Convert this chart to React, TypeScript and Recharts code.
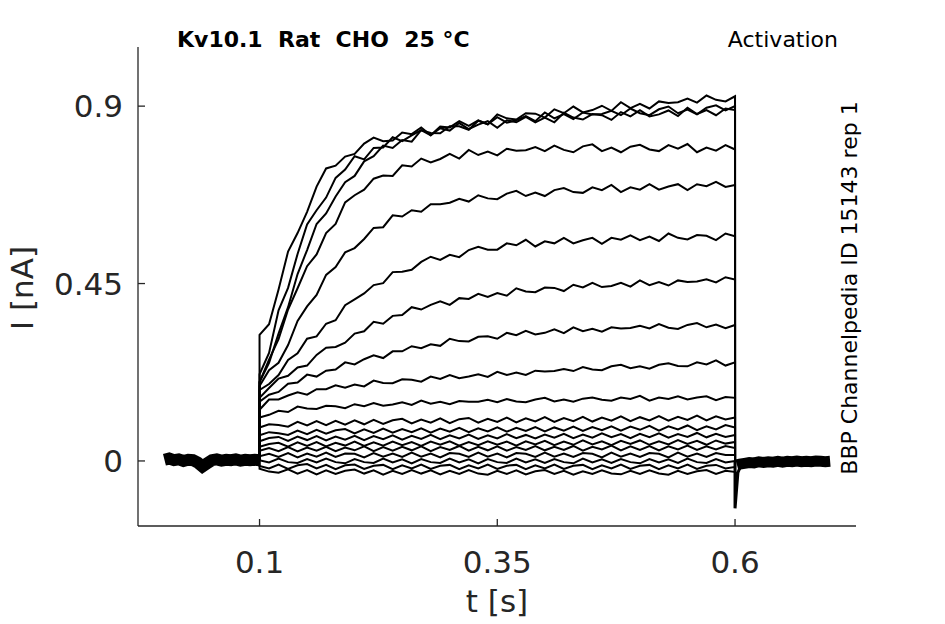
import React from 'react';
import { LineChart, Line, XAxis, YAxis } from 'recharts';

// time base of the voltage step (s)
const stepTimes = [
  0.1, 0.11, 0.12, 0.13, 0.14, 0.15, 0.16, 0.17, 0.18, 0.19,
  0.2, 0.21, 0.22, 0.23, 0.24, 0.25, 0.26, 0.27, 0.28, 0.29,
  0.3, 0.31, 0.32, 0.33, 0.34, 0.35, 0.36, 0.37, 0.38, 0.39,
  0.4, 0.41, 0.42, 0.43, 0.44, 0.45, 0.46, 0.47, 0.48, 0.49,
  0.5, 0.51, 0.52, 0.53, 0.54, 0.55, 0.56, 0.57, 0.58, 0.59,
  0.6,
];

// holding period before the step
const holdTimes = [
  0, 0.005, 0.01, 0.015, 0.02, 0.025, 0.03, 0.035, 0.04, 0.045, 0.05,
  0.055, 0.06, 0.065, 0.07, 0.075, 0.08, 0.085, 0.09, 0.095, 0.1,
];
const holdCurrent = [
  0.003, 0.006, 0.002, 0.004, 0.0, 0.003, 0.002, -0.004, -0.014, -0.006, 0.002,
  0.004, 0.001, 0.003, 0.002, 0.004, 0.001, 0.003, 0.002, 0.003, 0.002,
];

// tail after the step
const tailTimes = [
  0.602, 0.605, 0.61, 0.615, 0.62, 0.625, 0.63, 0.635, 0.64, 0.645, 0.65,
  0.655, 0.66, 0.665, 0.67, 0.675, 0.68, 0.685, 0.69, 0.695, 0.7,
];
const tailCurrent = [
  -0.01, -0.008, -0.006, -0.004, -0.005, -0.002, -0.004, -0.002, -0.003, -0.001, -0.003,
  -0.001, -0.002, 0.0, -0.002, -0.001, -0.002, 0.0, -0.001, -0.002, -0.001,
];
const spikeTimes = [0.6, 0.6, 0.603, 0.606];
const spikeCurrent = [0, -0.12, -0.03, -0.012];

// currents during the step, one per test potential (nA)
const trace01 = [
  0.32, 0.347, 0.435, 0.531, 0.578, 0.632, 0.696, 0.742, 0.749, 0.772,
  0.779, 0.805, 0.82, 0.811, 0.813, 0.833, 0.829, 0.846, 0.826, 0.844,
  0.838, 0.857, 0.842, 0.853, 0.862, 0.845, 0.864, 0.859, 0.873, 0.859,
  0.871, 0.859, 0.883, 0.871, 0.866, 0.88, 0.877, 0.865, 0.885, 0.874,
  0.89, 0.874, 0.879, 0.889, 0.875, 0.896, 0.88, 0.89, 0.877, 0.894,
  0.89,
];
const trace02 = [
  0.22, 0.274, 0.382, 0.439, 0.525, 0.6, 0.636, 0.668, 0.718, 0.739,
  0.773, 0.765, 0.794, 0.795, 0.821, 0.811, 0.826, 0.839, 0.826, 0.848,
  0.846, 0.862, 0.85, 0.864, 0.854, 0.879, 0.869, 0.866, 0.882, 0.881,
  0.871, 0.892, 0.882, 0.899, 0.884, 0.89, 0.901, 0.888, 0.91, 0.895,
  0.906, 0.894, 0.912, 0.908, 0.91, 0.919, 0.909, 0.927, 0.916, 0.912,
  0.925,
];
const trace03 = [
  0.2, 0.249, 0.323, 0.39, 0.474, 0.535, 0.601, 0.628, 0.671, 0.707,
  0.723, 0.76, 0.773, 0.8, 0.794, 0.814, 0.81, 0.839, 0.832, 0.831,
  0.849, 0.849, 0.84, 0.863, 0.854, 0.872, 0.858, 0.864, 0.875, 0.862,
  0.884, 0.869, 0.88, 0.867, 0.884, 0.879, 0.88, 0.888, 0.877, 0.894,
  0.882, 0.877, 0.892, 0.899, 0.882, 0.891, 0.879, 0.896, 0.902, 0.889,
  0.9,
];
const trace04 = [
  0.2, 0.257, 0.309, 0.384, 0.438, 0.494, 0.524, 0.578, 0.601, 0.656,
  0.674, 0.688, 0.716, 0.724, 0.723, 0.75, 0.747, 0.767, 0.757, 0.766,
  0.779, 0.767, 0.789, 0.776, 0.785, 0.775, 0.792, 0.787, 0.788, 0.796,
  0.786, 0.8, 0.789, 0.783, 0.798, 0.803, 0.786, 0.795, 0.783, 0.797,
  0.802, 0.79, 0.786, 0.801, 0.792, 0.804, 0.783, 0.795, 0.787, 0.801,
  0.79,
];
const trace05 = [
  0.19, 0.23, 0.249, 0.294, 0.355, 0.392, 0.421, 0.472, 0.492, 0.529,
  0.54, 0.563, 0.591, 0.593, 0.623, 0.62, 0.636, 0.632, 0.651, 0.651,
  0.655, 0.665, 0.658, 0.674, 0.666, 0.664, 0.678, 0.685, 0.672, 0.681,
  0.672, 0.687, 0.692, 0.682, 0.68, 0.694, 0.687, 0.7, 0.682, 0.694,
  0.688, 0.702, 0.688, 0.696, 0.702, 0.687, 0.702, 0.697, 0.708, 0.695,
  0.7,
];
const trace06 = [
  0.18, 0.195, 0.218, 0.256, 0.273, 0.31, 0.316, 0.348, 0.357, 0.395,
  0.41, 0.425, 0.446, 0.451, 0.479, 0.48, 0.485, 0.505, 0.518, 0.51,
  0.523, 0.517, 0.535, 0.543, 0.536, 0.536, 0.552, 0.547, 0.561, 0.544,
  0.557, 0.552, 0.566, 0.552, 0.56, 0.566, 0.551, 0.566, 0.561, 0.572,
  0.56, 0.569, 0.558, 0.577, 0.566, 0.562, 0.573, 0.571, 0.56, 0.577,
  0.57,
];
const trace07 = [
  0.16, 0.185, 0.209, 0.216, 0.237, 0.242, 0.269, 0.287, 0.289, 0.3,
  0.323, 0.329, 0.353, 0.348, 0.368, 0.37, 0.39, 0.384, 0.396, 0.405,
  0.396, 0.413, 0.411, 0.424, 0.416, 0.426, 0.419, 0.438, 0.43, 0.428,
  0.44, 0.439, 0.431, 0.447, 0.44, 0.452, 0.441, 0.444, 0.452, 0.442,
  0.458, 0.446, 0.454, 0.445, 0.458, 0.454, 0.455, 0.461, 0.453, 0.466,
  0.46,
];
const trace08 = [
  0.15, 0.168, 0.175, 0.196, 0.199, 0.219, 0.214, 0.229, 0.232, 0.25,
  0.245, 0.258, 0.268, 0.261, 0.278, 0.278, 0.291, 0.286, 0.296, 0.292,
  0.31, 0.304, 0.303, 0.315, 0.316, 0.31, 0.325, 0.319, 0.33, 0.321,
  0.325, 0.334, 0.324, 0.339, 0.329, 0.335, 0.328, 0.339, 0.336, 0.337,
  0.343, 0.336, 0.347, 0.338, 0.335, 0.345, 0.35, 0.339, 0.346, 0.337,
  0.345,
];
const trace09 = [
  0.13, 0.156, 0.156, 0.166, 0.174, 0.168, 0.182, 0.182, 0.192, 0.186,
  0.194, 0.189, 0.204, 0.198, 0.197, 0.207, 0.206, 0.201, 0.214, 0.208,
  0.218, 0.21, 0.214, 0.22, 0.213, 0.226, 0.218, 0.224, 0.218, 0.229,
  0.227, 0.228, 0.233, 0.228, 0.238, 0.232, 0.23, 0.24, 0.244, 0.235,
  0.24, 0.234, 0.244, 0.248, 0.241, 0.24, 0.25, 0.245, 0.255, 0.242,
  0.25,
];
const trace10 = [
  0.11, 0.117, 0.127, 0.124, 0.138, 0.133, 0.132, 0.14, 0.139, 0.134,
  0.144, 0.139, 0.147, 0.14, 0.143, 0.149, 0.142, 0.153, 0.145, 0.15,
  0.144, 0.152, 0.15, 0.15, 0.155, 0.149, 0.157, 0.151, 0.149, 0.156,
  0.16, 0.151, 0.156, 0.15, 0.158, 0.161, 0.155, 0.153, 0.161, 0.157,
  0.165, 0.153, 0.161, 0.157, 0.164, 0.156, 0.161, 0.164, 0.154, 0.162,
  0.16,
];
const trace11 = [
  0.085, 0.093, 0.091, 0.087, 0.099, 0.09, 0.101, 0.091, 0.102, 0.092,
  0.103, 0.093, 0.104, 0.094, 0.103, 0.107, 0.095, 0.105, 0.097, 0.108,
  0.096, 0.106, 0.109, 0.097, 0.107, 0.099, 0.11, 0.098, 0.108, 0.1,
  0.111, 0.099, 0.109, 0.101, 0.112, 0.1, 0.11, 0.102, 0.113, 0.101,
  0.111, 0.103, 0.114, 0.102, 0.112, 0.104, 0.115, 0.103, 0.113, 0.105,
  0.11,
];
const trace12 = [
  0.065, 0.073, 0.07, 0.066, 0.077, 0.068, 0.079, 0.069, 0.078, 0.081,
  0.07, 0.08, 0.071, 0.082, 0.072, 0.081, 0.073, 0.083, 0.072, 0.082,
  0.074, 0.084, 0.073, 0.083, 0.075, 0.085, 0.074, 0.084, 0.076, 0.086,
  0.075, 0.085, 0.077, 0.087, 0.076, 0.086, 0.078, 0.088, 0.077, 0.087,
  0.079, 0.089, 0.077, 0.088, 0.08, 0.09, 0.078, 0.088, 0.08, 0.091,
  0.085,
];
const trace13 = [
  0.05, 0.058, 0.061, 0.051, 0.062, 0.053, 0.063, 0.052, 0.062, 0.054,
  0.064, 0.053, 0.063, 0.055, 0.065, 0.054, 0.064, 0.056, 0.066, 0.055,
  0.065, 0.057, 0.067, 0.056, 0.065, 0.057, 0.068, 0.058, 0.066, 0.057,
  0.067, 0.059, 0.069, 0.058, 0.067, 0.059, 0.07, 0.06, 0.068, 0.058,
  0.069, 0.06, 0.07, 0.059, 0.068, 0.061, 0.071, 0.06, 0.069, 0.061,
  0.066,
];
const trace14 = [
  0.036, 0.043, 0.046, 0.036, 0.047, 0.038, 0.048, 0.037, 0.046, 0.039,
  0.049, 0.038, 0.047, 0.039, 0.049, 0.04, 0.048, 0.038, 0.049, 0.041,
  0.05, 0.039, 0.048, 0.04, 0.05, 0.041, 0.049, 0.039, 0.05, 0.042,
  0.051, 0.04, 0.049, 0.041, 0.052, 0.042, 0.05, 0.04, 0.051, 0.043,
  0.052, 0.041, 0.05, 0.042, 0.053, 0.043, 0.051, 0.041, 0.052, 0.044,
  0.048,
];
const trace15 = [
  0.026, 0.033, 0.025, 0.035, 0.024, 0.034, 0.026, 0.036, 0.025, 0.034,
  0.027, 0.037, 0.025, 0.035, 0.026, 0.036, 0.027, 0.037, 0.025, 0.035,
  0.028, 0.038, 0.026, 0.036, 0.027, 0.037, 0.026, 0.035, 0.028, 0.038,
  0.027, 0.036, 0.028, 0.038, 0.026, 0.036, 0.029, 0.039, 0.027, 0.037,
  0.028, 0.038, 0.027, 0.037, 0.029, 0.039, 0.028, 0.037, 0.029, 0.038,
  0.033,
];
const trace16 = [
  0.012, 0.018, 0.01, 0.02, 0.009, 0.019, 0.011, 0.021, 0.01, 0.019,
  0.018, 0.009, 0.02, 0.011, 0.019, 0.01, 0.021, 0.011, 0.019, 0.009,
  0.02, 0.018, 0.01, 0.021, 0.011, 0.019, 0.009, 0.02, 0.018, 0.01,
  0.021, 0.011, 0.019, 0.01, 0.02, 0.018, 0.009, 0.021, 0.011, 0.019,
  0.01, 0.02, 0.018, 0.009, 0.021, 0.011, 0.019, 0.01, 0.02, 0.015,
  0.015,
];
const trace17 = [
  0.002, -0.004, 0.006, -0.003, -0.005, 0.005, -0.004, 0.006, -0.003, -0.006,
  0.005, -0.003, -0.005, 0.006, -0.004, 0.004, -0.006, 0.005, -0.003, -0.005,
  0.006, -0.004, 0.004, -0.006, 0.005, -0.003, -0.005, 0.006, -0.004, 0.004,
  -0.005, 0.005, -0.003, -0.006, 0.006, -0.004, 0.004, -0.005, 0.005, -0.003,
  -0.006, 0.005, -0.004, 0.004, -0.005, 0.006, -0.003, -0.005, 0.005, -0.004,
  0.0,
];
const trace18 = [
  -0.013, -0.019, -0.009, -0.02, -0.011, -0.008, -0.019, -0.01, -0.021, -0.011,
  -0.009, -0.02, -0.012, -0.01, -0.021, -0.011, -0.019, -0.009, -0.02, -0.012,
  -0.01, -0.021, -0.011, -0.019, -0.009, -0.02, -0.012, -0.01, -0.021, -0.011,
  -0.019, -0.009, -0.02, -0.012, -0.01, -0.021, -0.011, -0.019, -0.009, -0.02,
  -0.012, -0.01, -0.021, -0.011, -0.019, -0.009, -0.02, -0.012, -0.01, -0.019,
  -0.015,
];
const trace19 = [
  -0.02, -0.027, -0.03, -0.021, -0.032, -0.023, -0.034, -0.024, -0.033, -0.025,
  -0.022, -0.032, -0.024, -0.035, -0.025, -0.033, -0.023, -0.032, -0.024, -0.034,
  -0.025, -0.033, -0.023, -0.032, -0.035, -0.025, -0.033, -0.024, -0.034, -0.026,
  -0.023, -0.033, -0.025, -0.035, -0.026, -0.033, -0.024, -0.032, -0.034, -0.025,
  -0.033, -0.024, -0.032, -0.035, -0.025, -0.033, -0.026, -0.023, -0.033, -0.025,
  -0.028,
];

const xTicks = [0.1, 0.35, 0.6];
const yTicks = [0, 0.45, 0.9];

const traces = [
  trace01, trace02, trace03, trace04, trace05, trace06, trace07, trace08, trace09, trace10,
  trace11, trace12, trace13, trace14, trace15, trace16, trace17, trace18, trace19,
];

const toPoints = (ts: number[], vs: number[]) => ts.map((t, i) => ({ t, v: vs[i] }));

// each sweep jumps up from baseline at the step onset and back down at its end
const sweepPoints = (vs: number[]) => [
  { t: 0.1, v: 0 },
  ...toPoints(stepTimes, vs),
  { t: 0.6, v: 0 },
];

const axisColor = '#262626';
const font = '"DejaVu Sans", sans-serif';

const App = () => {
  return (
    <div style={{ position: 'absolute', left: 0, top: 0, width: 945, height: 624, background: '#fff' }}>
      <LineChart width={945} height={624} margin={{ top: 47, right: 89, bottom: 38, left: 78 }}>
        <XAxis
          dataKey="t"
          type="number"
          domain={[-0.0278, 0.7272]}
          allowDataOverflow
          ticks={xTicks}
          height={60}
          tickSize={-7}
          tickMargin={32}
          axisLine={{ stroke: axisColor, strokeWidth: 1.3 }}
          tickLine={{ stroke: axisColor, strokeWidth: 1.3 }}
          tick={{ fill: axisColor, fontSize: 31, fontFamily: font }}
        />
        <YAxis
          type="number"
          domain={[-0.165, 1.05]}
          allowDataOverflow
          ticks={yTicks}
          width={60}
          tickSize={-7}
          tickMargin={22}
          axisLine={{ stroke: axisColor, strokeWidth: 1.3 }}
          tickLine={{ stroke: axisColor, strokeWidth: 1.3 }}
          tick={{ fill: axisColor, fontSize: 31, fontFamily: font }}
        />
        <Line
          data={toPoints(holdTimes, holdCurrent)}
          dataKey="v"
          stroke="#000"
          strokeWidth={12}
          dot={false}
          isAnimationActive={false}
        />
        <Line
          data={toPoints(tailTimes, tailCurrent)}
          dataKey="v"
          stroke="#000"
          strokeWidth={11}
          dot={false}
          isAnimationActive={false}
        />
        <Line
          data={toPoints(spikeTimes, spikeCurrent)}
          dataKey="v"
          stroke="#000"
          strokeWidth={3}
          dot={false}
          isAnimationActive={false}
        />
        {traces.map((tr, i) => (
          <Line
            key={i}
            data={sweepPoints(tr)}
            dataKey="v"
            stroke="#000"
            strokeWidth={2}
            dot={false}
            isAnimationActive={false}
          />
        ))}
      </LineChart>
      <svg
        width={945}
        height={624}
        style={{ position: 'absolute', left: 0, top: 0, pointerEvents: 'none', fontFamily: font }}
      >
        <text x={177} y={47} fontSize={22} fontWeight="bold" fill="#000" style={{ whiteSpace: 'pre' }}>
          {'Kv10.1  Rat  CHO  25 °C'}
        </text>
        <text x={838} y={47} fontSize={22} textAnchor="end" fill="#000">
          Activation
        </text>
        <text transform="translate(857,288) rotate(-90)" fontSize={22} textAnchor="middle" fill="#000">
          BBP Channelpedia ID 15143 rep 1
        </text>
        <text x={497} y={612} fontSize={31} textAnchor="middle" fill={axisColor}>
          t [s]
        </text>
        <text transform="translate(33,288) rotate(-90)" fontSize={31} textAnchor="middle" fill={axisColor}>
          I [nA]
        </text>
      </svg>
    </div>
  );
};

export default App;
